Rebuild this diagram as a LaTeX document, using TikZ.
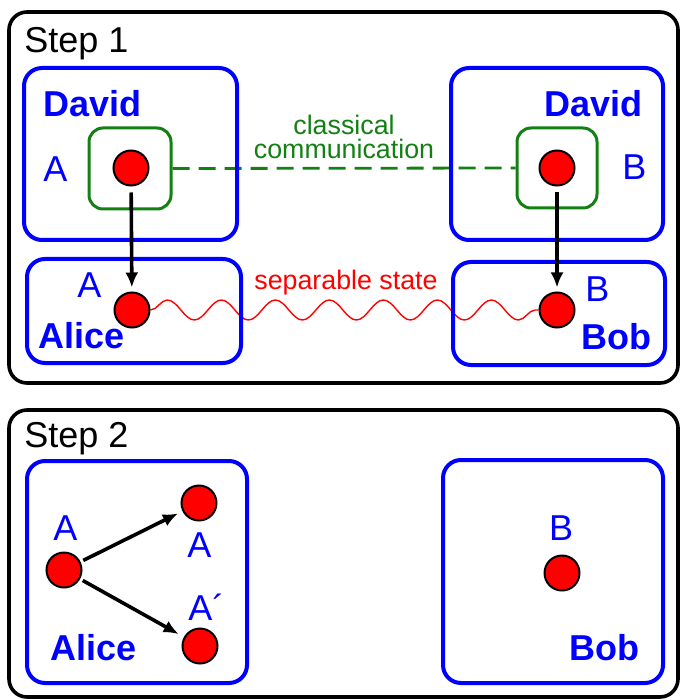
\documentclass[tikz,border=0pt]{standalone}
\usepackage{fontspec}
\setmainfont{Liberation Sans}
\usetikzlibrary{arrows.meta,decorations.pathmorphing,backgrounds}
\definecolor{cgreen}{RGB}{20,128,20}
\tikzset{
  stepframe/.style={draw,line width=1.8pt,rounded corners=9pt,inner sep=0pt},
  party/.style={draw=blue,line width=2pt,rounded corners=9pt,inner sep=0pt},
  relay/.style={draw=cgreen,line width=1.5pt,rounded corners=7pt,inner sep=0pt},
  qubit/.style={circle,draw,fill=red,line width=1pt,minimum size=17.5pt,inner sep=0pt},
  big/.style={inner sep=0pt,font=\fontsize{18}{18}\selectfont},
  lbl/.style={big,blue},
  who/.style={inner sep=0pt,blue,font=\fontsize{18}{18}\selectfont\bfseries},
  small/.style={inner sep=0pt,font=\fontsize{13.4}{12}\selectfont},
  hop/.style={-{Latex[length=7.5pt,width=6.5pt]},line width=1.8pt}
}
\begin{document}
\begin{tikzpicture}[x=0.5pt,y=-0.5pt]
\useasboundingbox (0,0) rectangle (681,699);
% Step 1
\node[stepframe,minimum width=334.5pt,minimum height=185.5pt] (stepone) at (343.5,197.5) {};
\node[big,anchor=base west] (steponetxt) at (24,53) {Step 1};
\node[party,minimum width=106.5pt,minimum height=86pt] (davidA) at (130.5,154) {};
\node[party,minimum width=106pt,minimum height=86pt] (davidB) at (557,154) {};
\node[party,minimum width=107pt,minimum height=52pt] (aliceone) at (134,311) {};
\node[party,minimum width=106pt,minimum height=51.5pt] (bobone) at (559,313.5) {};
\node[relay,minimum width=41pt,minimum height=40.5pt] (relayA) at (130,168.5) {};
\node[relay,minimum width=40pt,minimum height=40pt] (relayB) at (557,168) {};
\node[who,anchor=base west] (davidAtxt) at (43,117) {David};
\node[who,anchor=base east] (davidBtxt) at (643,117) {David};
\node[lbl,anchor=base west] (relayAtxt) at (43,182) {A};
\node[lbl,anchor=base west] (relayBtxt) at (622,180) {B};
\node[lbl,anchor=base west] (aliceonelbl) at (77,298) {A};
\node[who,anchor=base west] (aliceonetxt) at (38,348) {Alice};
\node[lbl,anchor=base west] (bobonelbl) at (585,302) {B};
\node[who,anchor=base east] (bobonetxt) at (652,350) {Bob};
\node[qubit] (qA) at (131,168) {};
\node[qubit] (qB) at (557,168) {};
\node[qubit] (qAlice) at (132,310) {};
\node[qubit] (qBob) at (557,310) {};
\node[small,cgreen,align=center] (classical) at (344,137) {classical\\communication};
\node[small,red,anchor=base] (separable) at (346,290) {separable state};
\begin{pgfonlayer}{background}
\draw[cgreen,line width=1.4pt,dash pattern=on 8.5pt off 4.5pt] (relayA.east) -- (relayB.west);
\draw[red,line width=0.7pt,decorate,decoration={snake,amplitude=5pt,segment length=27pt}] (qAlice.east) -- (qBob.west);
\end{pgfonlayer}
\draw[hop,shorten <=3pt,shorten >=2pt] (qA) -- (qAlice);
\draw[hop,shorten <=3pt,shorten >=2pt] (qB) -- (qBob);
% Step 2
\node[stepframe,minimum width=334.5pt,minimum height=143.5pt] (steptwo) at (343.5,553.5) {};
\node[big,anchor=base west] (steptwotxt) at (24,447) {Step 2};
\node[party,minimum width=110pt,minimum height=111pt] (alicetwo) at (137,572) {};
\node[party,minimum width=110pt,minimum height=111.5pt] (bobtwo) at (553,571.5) {};
\node[qubit] (qSrc) at (64,570) {};
\node[qubit] (qUp) at (199,503) {};
\node[qubit] (qDown) at (200,646) {};
\node[qubit] (qBobtwo) at (562,573) {};
\node[lbl,anchor=base west] (qSrclbl) at (53,540) {A};
\node[lbl,anchor=base west] (qUplbl) at (187,557) {A};
\node[lbl,anchor=base west] (qDownlbl) at (188,620) {A´};
\node[who,anchor=base west] (alicetwotxt) at (50,660) {Alice};
\node[lbl,anchor=base] (qBobtwolbl) at (561,540) {B};
\node[who,anchor=base east] (bobtwotxt) at (640,660) {Bob};
\draw[hop,shorten <=1.5pt,shorten >=2.5pt] (qSrc) -- (qUp);
\draw[hop,shorten <=1.5pt,shorten >=3pt] (qSrc) -- (qDown);
\end{tikzpicture}
\end{document}
